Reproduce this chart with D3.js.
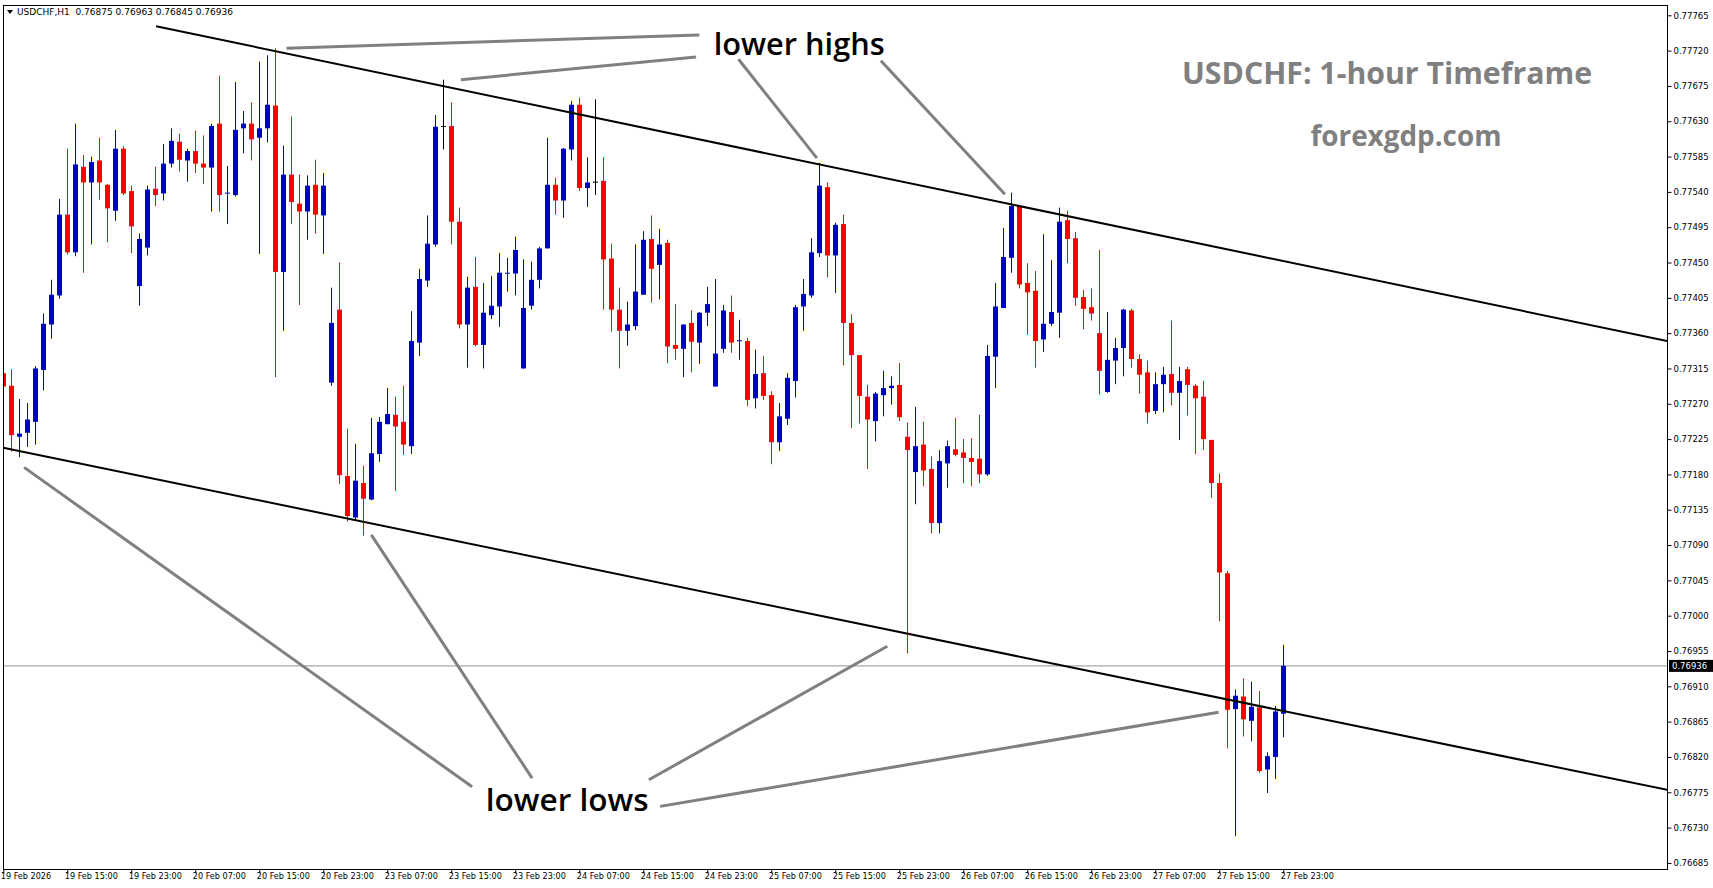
<!DOCTYPE html>
<html><head><meta charset="utf-8">
<script src="https://cdn.jsdelivr.net/npm/d3@7"></script>
<style>body{margin:0;background:#fff}svg{display:block}</style>
</head><body>
<svg id="c" width="1713" height="888"></svg>
<script>
const opens=[.77309,.77293,.77228,.77233,.77247,.77313,.77371,.77408,.77511,.77463,.77572,.77552,.77580,.77549,.77516,.77595,.77541,.77420,.77469,.77544,.77538,.77576,.77604,.77580,.77592,.77576,.77571,.77627,.77538,.77536,.77621,.77627,.77609,.77621,.77650,.77438,.77562,.77525,.77515,.77549,.77510,.77297,.77390,
.77178,.77125,.77169,.77148,.77206,.77244,.77256,.77247,.77216,.77348,.77427,.77473,.77624,.77624,.77502,.77371,.77419,.77345,.77383,.77394,.77436,.77436,.77315,.77395,.77428,.77468,.77549,.77529,.77594,.77651,.77545,.77553,.77554,.77455,.77390,.77363,.77369,.77409,.77480,.77447,.77475,
.77345,.77340,.77373,.77348,.77386,.77292,.77340,.77387,.77350,.77350,.77277,.77309,.77281,.77221,.77251,.77299,.77394,.77408,.77462,.77546,.77459,.77499,.77373,.77332,.77279,.77248,.77281,.77290,.77294,.77228,.77183,.77218,.77187,.77118,.77194,.77212,.77208,.77201,.77200,.77180,
.77330,.77392,.77456,.77522,.77424,.77414,.77352,.77372,.77386,.77504,.77481,.77406,.77393,.77360,.77285,.77325,.77341,.77389,.77327,.77310,.77261,.77295,.77308,.77284,.77314,.77293,.77279,.77224,.77169,.77054,.76881,.76897,.76866,.76883,.76804,.76820,.76875];
const highs=[.77328,.77314,.77276,.77271,.77318,.77385,.77428,.77531,.77595,.77627,.77587,.77585,.77609,.77550,.77619,.77598,.77548,.77487,.77548,.77572,.77601,.77621,.77614,.77595,.77618,.77612,.77627,.77688,.77573,.77680,.77643,.77654,.77706,.77714,.77723,.77599,.77636,.77562,.77561,.77581,.77564,.77418,.77450,
.77238,.77219,.77191,.77252,.77253,.77290,.77279,.77293,.77388,.77442,.77510,.77638,.77683,.77654,.77520,.77432,.77457,.77424,.77433,.77462,.77456,.77483,.77454,.77451,.77470,.77609,.77558,.77596,.77656,.77660,.77584,.77658,.77584,.77474,.77418,.77400,.77473,.77490,.77510,.77493,.77479,
.77397,.77371,.77389,.77387,.77419,.77429,.77396,.77408,.77377,.77354,.77339,.77331,.77286,.77271,.77309,.77396,.77429,.77481,.77577,.77552,.77501,.77511,.77384,.77332,.77294,.77285,.77312,.77305,.77322,.77246,.77266,.77247,.77203,.77211,.77223,.77252,.77225,.77226,.77256,.77345,
.77424,.77494,.77539,.77522,.77449,.77439,.77486,.77453,.77520,.77516,.77489,.77415,.77417,.77466,.77387,.77354,.77391,.77391,.77333,.77325,.77310,.77317,.77376,.77317,.77317,.77295,.77299,.77224,.77181,.77057,.76906,.76920,.76916,.76904,.76826,.76885,.76963];
const lows=[.77289,.77209,.77202,.77215,.77218,.77287,.77353,.77404,.77460,.77458,.77437,.77473,.77530,.77476,.77503,.77536,.77462,.77395,.77459,.77522,.77529,.77571,.77566,.77553,.77564,.77550,.77515,.77515,.77499,.77534,.77589,.77580,.77461,.77603,.77304,.77363,.77499,.77396,.77479,.77487,.77461,.77293,.77168,
.77120,.77122,.77102,.77147,.77196,.77244,.77159,.77205,.77206,.77331,.77419,.77470,.77594,.77473,.77366,.77316,.77343,.77315,.77378,.77368,.77413,.77408,.77315,.77390,.77417,.77468,.77511,.77507,.77580,.77541,.77521,.77536,.77390,.77362,.77315,.77344,.77364,.77409,.77399,.77403,.77322,
.77326,.77304,.77310,.77321,.77369,.77292,.77335,.77335,.77326,.77267,.77264,.77275,.77193,.77210,.77243,.77278,.77363,.77405,.77457,.77431,.77411,.77319,.77239,.77245,.77187,.77222,.77254,.77269,.77248,.76952,.77142,.77165,.77105,.77105,.77163,.77203,.77169,.77165,.77169,.77178,
.77290,.77392,.77437,.77417,.77358,.77316,.77336,.77369,.77354,.77449,.77395,.77365,.77376,.77282,.77284,.77295,.77305,.77316,.77283,.77245,.77257,.77259,.77268,.77224,.77255,.77206,.77211,.77150,.76993,.76831,.76719,.76846,.76840,.76800,.76774,.76792,.76845];
const closes=[.77292,.77230,.77232,.77250,.77315,.77372,.77409,.77511,.77463,.77575,.77552,.77578,.77552,.77519,.77595,.77538,.77496,.77480,.77543,.77536,.77576,.77605,.77581,.77592,.77576,.77571,.77624,.77536,.77539,.77619,.77627,.77607,.77621,.77651,.77438,.77562,.77527,.77515,.77548,.77511,.77548,.77373,.77179,
.77127,.77172,.77149,.77207,.77247,.77257,.77241,.77218,.77350,.77429,.77474,.77623,.77624,.77502,.77371,.77418,.77345,.77386,.77395,.77437,.77437,.77466,.77392,.77428,.77468,.77549,.77529,.77595,.77651,.77545,.77552,.77553,.77454,.77390,.77363,.77371,.77413,.77479,.77442,.77473,.77343,
.77340,.77371,.77349,.77386,.77397,.77334,.77389,.77348,.77351,.77275,.77308,.77280,.77221,.77254,.77303,.77393,.77410,.77463,.77548,.77459,.77498,.77373,.77332,.77280,.77250,.77283,.77290,.77293,.77253,.77211,.77216,.77185,.77118,.77197,.77216,.77205,.77201,.77196,.77180,.77331,
.77394,.77457,.77522,.77422,.77412,.77350,.77372,.77387,.77502,.77480,.77405,.77391,.77385,.77312,.77326,.77341,.77390,.77327,.77307,.77259,.77295,.77307,.77284,.77299,.77294,.77277,.77225,.77169,.77055,.76880,.76898,.76868,.76884,.76802,.76821,.76878,.76936];
const priceTicks=[.77765,.77720,.77675,.77630,.77585,.77540,.77495,.77450,.77405,.77360,.77315,.77270,.77225,.77180,.77135,.77090,.77045,.77000,.76955,.76910,.76865,.76820,.76775,.76730,.76685];
const timeLabels=["19 Feb 2026","19 Feb 15:00","19 Feb 23:00","20 Feb 07:00","20 Feb 15:00","20 Feb 23:00","23 Feb 07:00","23 Feb 15:00","23 Feb 23:00","24 Feb 07:00","24 Feb 15:00","24 Feb 23:00","25 Feb 07:00","25 Feb 15:00","25 Feb 23:00","26 Feb 07:00","26 Feb 15:00","26 Feb 23:00","27 Feb 07:00","27 Feb 15:00","27 Feb 23:00"];
const lastPrice=.76936;
const upperChannel=[[19.1,.77751],[208,.77350]];
const lowerChannel=[[0,.77214],[208,.76778]];
const highPointers=[[[35.4,.77723],[87,.77740]],[[57.2,.77683],[86.6,.77712]],[[91.9,.77709],[101.7,.77583]],[[109.7,.77707],[125.2,.77537]]];
const lowPointers=[[[2.6,.77189],[58.6,.76782]],[[46,.77103],[66.1,.76793]],[[110.5,.76961],[80.7,.76791]],[[151.9,.76877],[82.1,.76757]]];

const svg=d3.select("#c");
const L=3,T=5,R=1667,B=869;
const x=d3.scaleLinear().domain([0,208]).range([3.3,1667.3]);
const y=d3.scaleLinear().domain([.76685,.77765]).range([862.9,15.3]);
svg.append("clipPath").attr("id","cl").append("rect").attr("x",L).attr("y",T).attr("width",R-L).attr("height",B-T);
const plot=svg.append("g").attr("clip-path","url(#cl)");

plot.append("line").attr("x1",L).attr("x2",R).attr("y1",y(lastPrice)).attr("y2",y(lastPrice)).attr("stroke","#8a939e").attr("stroke-width",1);

const data=opens.map((o,i)=>({i,o,h:highs[i],l:lows[i],c:closes[i]}));
const col=d=>d.c>d.o?"#0000cd":(d.c<d.o?"#ff0000":"#000");
const cg=plot.append("g");
cg.selectAll("line.w").data(data).join("line").attr("x1",d=>Math.round(x(d.i))+0.5).attr("x2",d=>Math.round(x(d.i))+0.5)
 .attr("y1",d=>y(d.h)).attr("y2",d=>y(d.l)).attr("stroke",col).attr("stroke-width",1);
cg.selectAll("rect").data(data).join("rect").attr("x",d=>Math.round(x(d.i))-2).attr("width",5)
 .attr("y",d=>y(Math.max(d.o,d.c))).attr("height",d=>Math.max(1,y(Math.min(d.o,d.c))-y(Math.max(d.o,d.c))))
 .attr("fill",col);

const ln=d3.line().x(d=>x(d[0])).y(d=>y(d[1]));
[upperChannel,lowerChannel].forEach(s=>plot.append("path").attr("d",ln(s)).attr("stroke","#000").attr("stroke-width",2).attr("fill","none"));
[...highPointers,...lowPointers].forEach(s=>plot.append("path").attr("d",ln(s)).attr("stroke","#808080").attr("stroke-width",3).attr("fill","none"));

const ff="'Open Sans', sans-serif";
plot.append("text").attr("x",x(88.8)).attr("y",y(.77715)).text("lower highs").attr("font-family",ff).attr("font-weight",600).attr("font-size",30).attr("fill","#000").attr("textLength",171).attr("lengthAdjust","spacingAndGlyphs");
plot.append("text").attr("x",x(60.3)).attr("y",y(.76751)).text("lower lows").attr("font-family",ff).attr("font-weight",600).attr("font-size",30).attr("fill","#000").attr("textLength",163).attr("lengthAdjust","spacingAndGlyphs");
svg.append("text").attr("x",1387).attr("y",84).attr("text-anchor","middle").text("USDCHF: 1-hour Timeframe").attr("font-family",ff).attr("font-weight",700).attr("font-size",30).attr("fill","#808080").attr("textLength",410).attr("lengthAdjust","spacingAndGlyphs");
svg.append("text").attr("x",1406).attr("y",146).attr("text-anchor","middle").text("forexgdp.com").attr("font-family",ff).attr("font-weight",700).attr("font-size",28).attr("fill","#808080").attr("textLength",191).attr("lengthAdjust","spacingAndGlyphs");

svg.append("rect").attr("x",L+0.5).attr("y",T+0.5).attr("width",R-L).attr("height",B-T).attr("fill","none").attr("stroke","#000");

const ay=svg.append("g").attr("transform",`translate(${R+0.5},0)`).call(d3.axisRight(y).tickValues(priceTicks).tickFormat(d3.format(".5f")).tickSize(4).tickSizeOuter(0));
ay.select(".domain").remove();
ay.selectAll("text").attr("font-family","DejaVu Sans").attr("font-size",8.5).attr("x",6);
const ly=y(lastPrice);
svg.append("rect").attr("x",R+2).attr("y",ly-6).attr("width",44).attr("height",12).attr("fill","#000");
svg.append("text").attr("x",R+5).attr("y",ly+3.5).text(d3.format(".5f")(lastPrice)).attr("font-family","DejaVu Sans").attr("font-size",8.5).attr("fill","#fff");

const ax=svg.append("g").attr("transform",`translate(0,${B+0.5})`).call(d3.axisBottom(x).tickValues(timeLabels.map((_,k)=>k*8)).tickFormat((d,k)=>timeLabels[k]).tickSize(4).tickSizeOuter(0));
ax.select(".domain").remove();
ax.selectAll("text").attr("font-family","'Liberation Sans Narrow','DejaVu Sans Condensed',sans-serif").attr("font-size",9).attr("text-anchor","start").attr("dx",-3).attr("dy",2);

svg.append("path").attr("d","M7,10 L13,10 L10,14 Z").attr("fill","#000");
svg.append("text").attr("x",17).attr("y",15).text("USDCHF,H1  0.76875 0.76963 0.76845 0.76936").attr("font-family","DejaVu Sans").attr("font-size",9).attr("fill","#000").attr("xml:space","preserve");
</script></body></html>
